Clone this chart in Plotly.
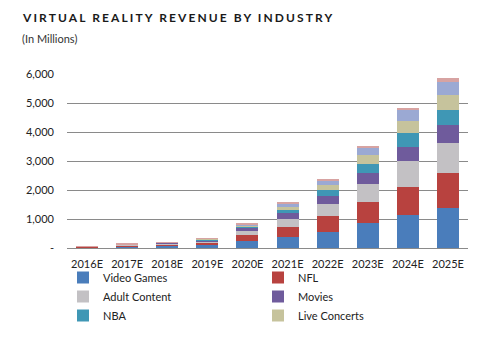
import plotly.graph_objects as go

years = ["2016E", "2017E", "2018E", "2019E", "2020E", "2021E", "2022E", "2023E", "2024E", "2025E"]

video_games   = [25, 55, 80, 110, 250, 390, 565, 875, 1140, 1370]
nfl           = [12, 28, 40, 70, 190, 320, 550, 725, 975, 1230]
adult_content = [10, 22, 35, 55, 150, 290, 400, 610, 885, 1030]
movies        = [6, 14, 25, 40, 100, 195, 290, 370, 495, 610]
nba           = [3, 7, 10, 20, 50, 115, 195, 310, 460, 520]
live_concerts = [2, 6, 8, 18, 45, 115, 170, 320, 435, 520]
other_a       = [2, 5, 7, 15, 35, 115, 150, 265, 390, 460]
other_b       = [1, 2, 2, 5, 10, 25, 45, 45, 35, 115]

series = [
    ("Video Games", video_games, "#4a7dbb", "legend"),
    ("NFL", nfl, "#b8423f", "legend2"),
    ("Adult Content", adult_content, "#c3c1c4", "legend"),
    ("Movies", movies, "#6f5b9c", "legend2"),
    ("NBA", nba, "#3f97b5", "legend"),
    ("Live Concerts", live_concerts, "#c6c39c", "legend2"),
    ("Other", other_a, "#9ba9d3", None),
    ("Misc", other_b, "#d7a3a2", None),
]

y_ticks = [0, 1000, 2000, 3000, 4000, 5000, 6000]
y_tick_labels = ["-", "1,000", "2,000", "3,000", "4,000", "5,000", "6,000"]

fig = go.Figure()
for name, vals, color, lg in series:
    fig.add_trace(go.Bar(x=years, y=vals, name=name, marker=dict(color=color, line=dict(width=0)),
                         showlegend=lg is not None, legend=lg or "legend"))

font_family = "Lato, 'Open Sans', sans-serif"
PW, PH = 401, 174
leg_common = dict(orientation="v", xanchor="left", yanchor="top", traceorder="normal",
                  font=dict(size=11, color="#222", family=font_family), itemwidth=30,
                  tracegroupgap=0, bgcolor="rgba(0,0,0,0)", borderwidth=0)

fig.update_layout(
    barmode="stack",
    bargap=0.45,
    width=497, height=341,
    margin=dict(l=67, r=29, t=74, b=93, autoexpand=False),
    plot_bgcolor="white", paper_bgcolor="white",
    font=dict(family=font_family, size=11, color="#222"),
    showlegend=True,
    legend=dict(x=-4 / PW, y=-(263 - 248) / PH, **leg_common),
    legend2=dict(x=(283 - 92) / PW, y=-(263 - 248) / PH, **leg_common),
    xaxis=dict(showgrid=False, showline=False, ticks="", tickfont=dict(size=11, color="#222"),
               type="category", ticklabelstandoff=8),
    yaxis=dict(range=[0, 6000], tickvals=y_ticks, ticktext=y_tick_labels,
               showgrid=True, gridcolor="#8a8a8a", gridwidth=1, zeroline=True,
               zerolinecolor="#8a8a8a", zerolinewidth=1,
               tickfont=dict(size=11, color="#222"), ticklabelstandoff=12),
)

fig.add_annotation(text="<span style='letter-spacing:2.1px'><b>VIRTUAL REALITY REVENUE BY INDUSTRY</b></span>",
                   xref="paper", yref="paper",
                   x=(20 - 67) / PW, y=1 + (74 - 18) / PH, xanchor="left", yanchor="middle",
                   showarrow=False, font=dict(size=12, color="#1a1a1a", family=font_family))
fig.add_annotation(text="(In Millions)", xref="paper", yref="paper",
                   x=(20 - 67) / PW, y=1 + (74 - 38) / PH, xanchor="left", yanchor="middle",
                   showarrow=False, font=dict(size=11, color="#333", family=font_family))

fig.write_html("out.html")
